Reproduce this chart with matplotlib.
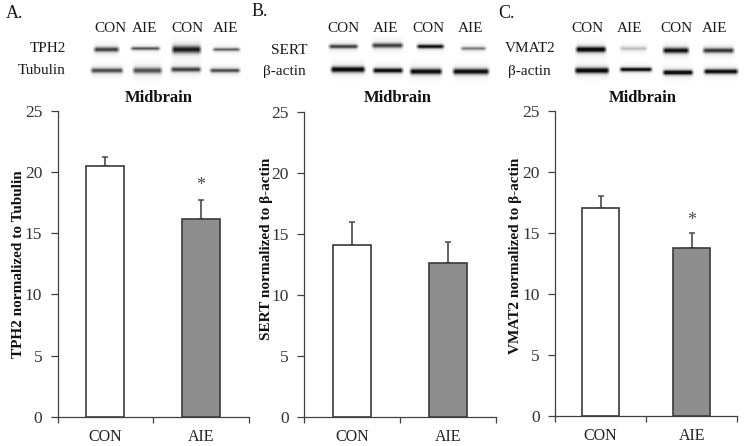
import matplotlib
matplotlib.use('Agg')
import matplotlib.pyplot as plt
import numpy as np

W, H = 745, 446
plt.rcParams['font.family'] = ['Liberation Serif', 'DejaVu Serif']

groups = ['CON', 'AIE']
tph2_means = [20.5, 16.2]
tph2_errs = [0.7, 1.5]
sert_means = [14.1, 12.6]
sert_errs = [1.9, 1.7]
vmat2_means = [17.05, 13.8]
vmat2_errs = [1.0, 1.15]

# asterisk heights
tph2_star = 18.9
vmat2_star = 16.05

#%% blot bands: x start, x end, y centre, thickness, darkness (in pixels)

tph2_bands = [(92, 120, 49, 3, .65), (129, 161, 48, 2, .55), (170, 202, 49, 4.5, .8), (211, 241, 49, 2, .5)]
tubulin_bands = [(89, 124, 70, 3, .6), (131, 163, 70, 3.5, .6), (169, 202, 69, 3, .65), (208, 241, 70, 2.5, .6)]
sert_bands = [(327, 359, 46, 2.5, .65), (370, 404, 45, 3, .65), (415, 445, 46, 2.5, .85), (459, 487, 48, 2, .4)]
actin_b_bands = [(329, 366, 69, 3.5, .95), (371, 404, 70, 3, .9), (408, 443, 71, 3.5, .9), (451, 490, 71, 3.5, .9)]
vmat2_bands = [(574, 607, 49, 3.5, .95), (618, 648, 48, 2, .15), (661, 690, 50, 3.5, .85), (701, 735, 50, 3, .7)]
actin_c_bands = [(573, 610, 70, 3.5, .95), (618, 653, 69, 2.5, .9), (661, 694, 72, 3, .95), (702, 739, 71, 3, .9)]


def px(x, y):
    return x / W, 1 - y / H


def draw_bands(canvas, bands):
    yy, xx = np.mgrid[0:H, 0:W]
    for x0, x1, yc, t, dark in bands:
        across = np.exp(-((yy - yc) / (t * 0.8)) ** 2)
        along = np.clip((xx - x0) / 4, 0, 1) * np.clip((x1 - xx) / 4, 0, 1)
        canvas -= dark * across * along
        halo = np.exp(-((yy - yc) / (t * 2.0)) ** 2)
        canvas -= 0.1 * halo * along


def draw_panel(x0, x1, ytop, ybot, means, errs, ylabel, ylabel_xy, star=None):
    ax = fig.add_axes([x0 / W, 1 - ybot / H, (x1 - x0) / W, (ybot - ytop) / H])
    ax.patch.set_alpha(0)
    pos = np.arange(len(means))
    ax.bar(pos, means, width=0.4, color=['white', '#8e8e8e'], edgecolor='#3a3a3a', linewidth=1.2, zorder=3)
    ax.errorbar(pos, means, yerr=[[0, 0], errs], fmt='none', ecolor='#4a4a4a', elinewidth=1.2,
                capsize=2.2, capthick=1.1, zorder=2)
    ax.set_xlim(-0.5, 1.5)
    ax.set_ylim(0, 25)
    ax.set_yticks(range(0, 26, 5))
    ax.set_xticks([-0.5, 0.5, 1.5])
    ax.set_xticklabels([])
    ax.set_xticks(pos, groups, minor=True)
    ax.tick_params(axis='x', which='major', length=4, width=0.9, color='#404040')
    ax.tick_params(axis='x', which='minor', length=0, pad=8.5, labelsize=11.5, labelcolor='#222222')
    ax.tick_params(axis='y', length=5, width=0.9, color='#404040', pad=6, labelsize=12.5, labelcolor='#333333')
    for side in ['top', 'right']:
        ax.spines[side].set_visible(False)
    for side in ['left', 'bottom']:
        ax.spines[side].set_color('#404040')
        ax.spines[side].set_linewidth(0.9)
    if star is not None:
        ax.text(1, star, '*', ha='center', va='center', fontsize=13, color='#4a4a4a')
    lx, ly = px(*ylabel_xy)
    fig.text(lx, ly, ylabel, rotation=90, ha='center', va='center', fontsize=11, fontweight='bold', color='#111111')


def label(x, y, s, **kw):
    lx, ly = px(x, y)
    kw.setdefault('ha', 'center')
    kw.setdefault('fontsize', 11)
    kw.setdefault('color', '#1a1a1a')
    fig.text(lx, ly, s, va='center', **kw)


#%%

fig = plt.figure(figsize=(W / 100, H / 100), dpi=100, facecolor='white')

canvas = np.ones((H, W))
for bands in [tph2_bands, tubulin_bands, sert_bands, actin_b_bands, vmat2_bands, actin_c_bands]:
    draw_bands(canvas, bands)
bg = fig.add_axes([0, 0, 1, 1])
bg.imshow(np.clip(canvas, 0.05, 1), cmap='gray', vmin=0, vmax=1, aspect='auto', interpolation='bilinear')
bg.axis('off')

draw_panel(57.5, 248.5, 111, 416.7, tph2_means, tph2_errs, 'TPH2 normalized to Tubulin', (19, 264), tph2_star)
draw_panel(304.3, 495.7, 112, 416.7, sert_means, sert_errs, 'SERT normalized to β-actin', (266.5, 249))
draw_panel(555, 737.3, 111, 415.7, vmat2_means, vmat2_errs, 'VMAT2 normalized to β-actin', (516, 256), vmat2_star)

label(6, 13, 'A.', ha='left', fontsize=13)
label(252, 12, 'B.', ha='left', fontsize=13)
label(498, 13, 'C.', ha='left', fontsize=13)

for x, s in zip([110, 145, 187, 226, 343, 386, 428, 471, 587, 630, 676, 715], ['CON', 'AIE'] * 6):
    label(x, 28, s)

label(66, 48, 'TPH2', ha='right')
label(66, 70, 'Tubulin', ha='right')
label(307, 50, 'SERT', ha='right')
label(306, 71, 'β-actin', ha='right')
label(556, 49, 'VMAT2', ha='right')
label(551, 71, 'β-actin', ha='right')

for x in [159, 398, 643]:
    label(x, 98, 'Midbrain', fontweight='bold', fontsize=12, color='#111111')

fig.savefig('out.png', dpi=100)
